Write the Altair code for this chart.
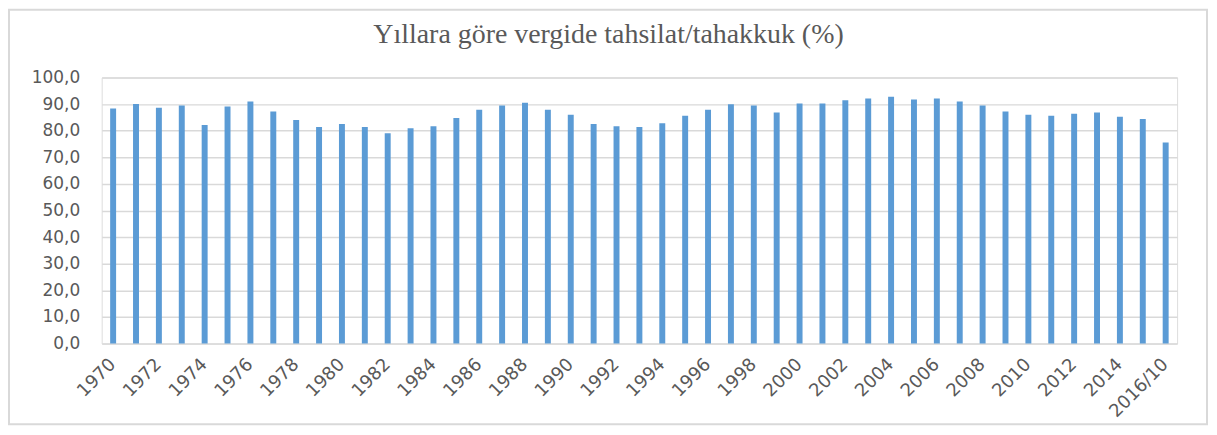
import altair as alt
import pandas as pd

years = [str(y) for y in range(1970, 2016)] + ["2016/10"]
values = [88.3, 90.0, 88.6, 89.5, 82.1, 89.1, 91.0, 87.2, 84.0, 81.4,
          82.5, 81.4, 79.0, 80.9, 81.7, 84.8, 87.9, 89.5, 90.5, 87.9,
          86.0, 82.5, 81.7, 81.4, 82.8, 85.6, 87.9, 89.9, 89.5, 86.8,
          90.2, 90.2, 91.4, 92.1, 92.8, 91.7, 92.1, 91.0, 89.5, 87.2,
          86.0, 85.6, 86.4, 86.8, 85.2, 84.4, 75.6]
shown_labels = years[::2]
y_ticks = list(range(0, 101, 10))

df = pd.DataFrame({"yil": years, "oran": values})

grey = "#595959"
label_font = "DejaVu Sans"

bars = alt.Chart(df).mark_bar(color="#5b9bd5").encode(
    x=alt.X("yil:N", sort=years,
            scale=alt.Scale(paddingInner=0.74, paddingOuter=0.37),
            axis=alt.Axis(title=None, values=shown_labels, labelAngle=-45,
                          labelAlign="right", labelBaseline="middle",
                          labelPadding=12, offset=6, ticks=False, domain=False,
                          labelFont=label_font, labelFontSize=18,
                          labelColor=grey, grid=False)),
    y=alt.Y("oran:Q", scale=alt.Scale(domain=[0, 100], nice=False),
            axis=alt.Axis(title=None, values=y_ticks, ticks=False, domain=False,
                          labelExpr="replace(format(datum.value, '.1f'), '.', ',')",
                          labelFont=label_font, labelFontSize=17, labelColor=grey,
                          labelPadding=22, gridColor="#d9d9d9", gridWidth=1.5)),
)

border = alt.Chart(alt.Data(values=[{}])).mark_rect(
    fill=None, stroke="#d9d9d9", strokeWidth=2
).encode(
    x=alt.value(-93), x2=alt.value(1109),
    y=alt.value(-68), y2=alt.value(348),
)

chart = alt.layer(border, bars).properties(
    width=1079, height=267,
    autosize=alt.AutoSizeParams(type="none"),
    padding={"left": 94, "top": 69, "right": 32, "bottom": 83},
    title=alt.TitleParams(
        text="Yıllara  göre vergide tahsilat/tahakkuk (%)",
        font="Liberation Serif", fontSize=28, fontWeight="normal",
        color=grey, anchor="middle", frame="group", dx=-31, offset=-62,
        baseline="alphabetic",
    ),
).configure_view(stroke=None).configure(background="white")

chart.save("out.html", embed_options={"renderer": "svg", "actions": False})
